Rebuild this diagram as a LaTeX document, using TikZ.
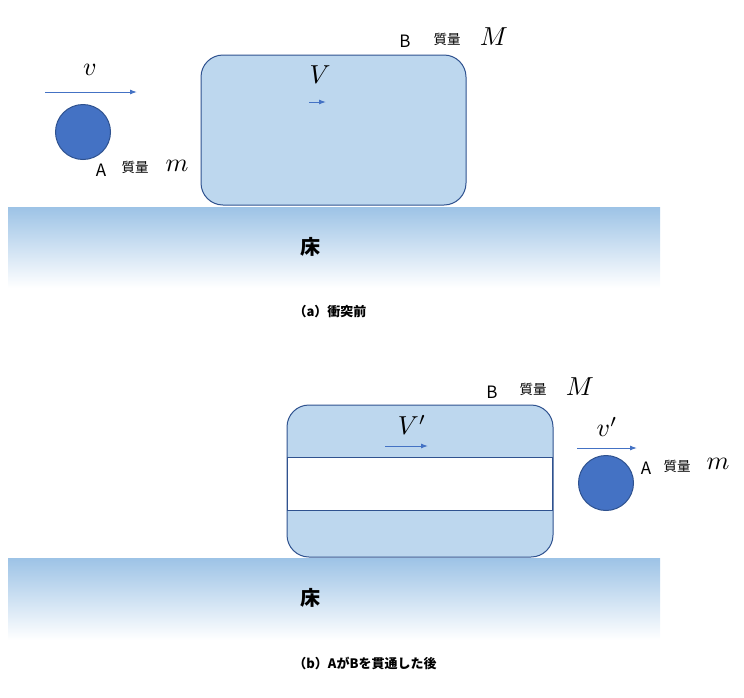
\documentclass[tikz,border=0pt]{standalone}
\usepackage{fontspec}
\usetikzlibrary{arrows.meta}
\newfontfamily\jp{Noto Sans CJK JP}
\begin{document}
\begin{tikzpicture}[x=1pt,y=-1pt,
  box/.style={draw=bdr,fill=boxc,line width=1pt,rounded corners=22pt},
  ball/.style={circle,draw=bdr,fill=ballc,line width=1pt,minimum size=55pt,inner sep=0pt},
  arr/.style={draw=ballc,line width=1pt,-{Latex[length=7pt,width=5pt]}},
  lbl/.style={font=\jp,scale=1.7,inner sep=0pt},
  jlb/.style={font=\jp,scale=1.35,inner sep=0pt},
  mth/.style={scale=2.6,inner sep=0pt},
  captxt/.style={font=\jp\bfseries,scale=1.3,inner sep=0pt},
  flr/.style={font=\jp\bfseries,scale=2,inner sep=0pt}]
\definecolor{boxc}{HTML}{BDD7EE}
\definecolor{bdr}{HTML}{2F528F}
\definecolor{ballc}{HTML}{4472C4}
\definecolor{flc}{HTML}{9DC3E6}
\useasboundingbox (0,0) rectangle (744,697);
% panel a
\shade[top color=flc,bottom color=white] (8,207) rectangle (660,288);
\node[flr] (f1) at (310,247) {床};
\node[box,minimum width=265pt,minimum height=150pt] (B1) at (333.5,130) {};
\coordinate (v1s) at (45,92); \coordinate (v1e) at (137,92);
\draw[arr] (v1s) -- (v1e);
\node[mth] (v1) at (90,70) {$v$};
\node[ball] (A1) at (83,132) {};
\node[lbl] (A1l) at (101,170) {A};
\node[jlb] (A1m) at (135,167) {質量};
\node[mth] (A1mm) at (177,166) {$m$};
\node[mth] (V1) at (320,75) {$V$};
\coordinate (V1s) at (309,102); \coordinate (V1e) at (326,102);
\draw[arr] (V1s) -- (V1e);
\node[lbl] (B1l) at (405,41) {B};
\node[jlb] (B1m) at (447,39) {質量};
\node[mth] (B1mm) at (494,37) {$M$};
\node[captxt] (ca) at (330,312) {（a）衝突前};
% panel b
\shade[top color=flc,bottom color=white] (8,558) rectangle (660,640);
\node[flr] (f2) at (310,598) {床};
\node[box,minimum width=266pt,minimum height=152pt] (B2) at (420,481) {};
\draw[draw=bdr,fill=white,line width=1pt] (287.5,457) rectangle (552.5,510);
\node[mth] (V2) at (412,425) {$V'$};
\coordinate (V2s) at (385,446); \coordinate (V2e) at (428,446);
\draw[arr] (V2s) -- (V2e);
\node[lbl] (B2l) at (492,392) {B};
\node[jlb] (B2m) at (533,389) {質量};
\node[mth] (B2mm) at (580,387) {$M$};
\node[mth] (v2) at (607,427) {$v'$};
\coordinate (v2s) at (577,448); \coordinate (v2e) at (637,448);
\draw[arr] (v2s) -- (v2e);
\node[ball] (A2) at (606,483) {};
\node[lbl] (A2l) at (646,468) {A};
\node[jlb] (A2m) at (677,466) {質量};
\node[mth] (A2mm) at (718,464) {$m$};
\node[captxt] (cb) at (365,663) {（b）AがBを貫通した後};
\end{tikzpicture}
\end{document}
